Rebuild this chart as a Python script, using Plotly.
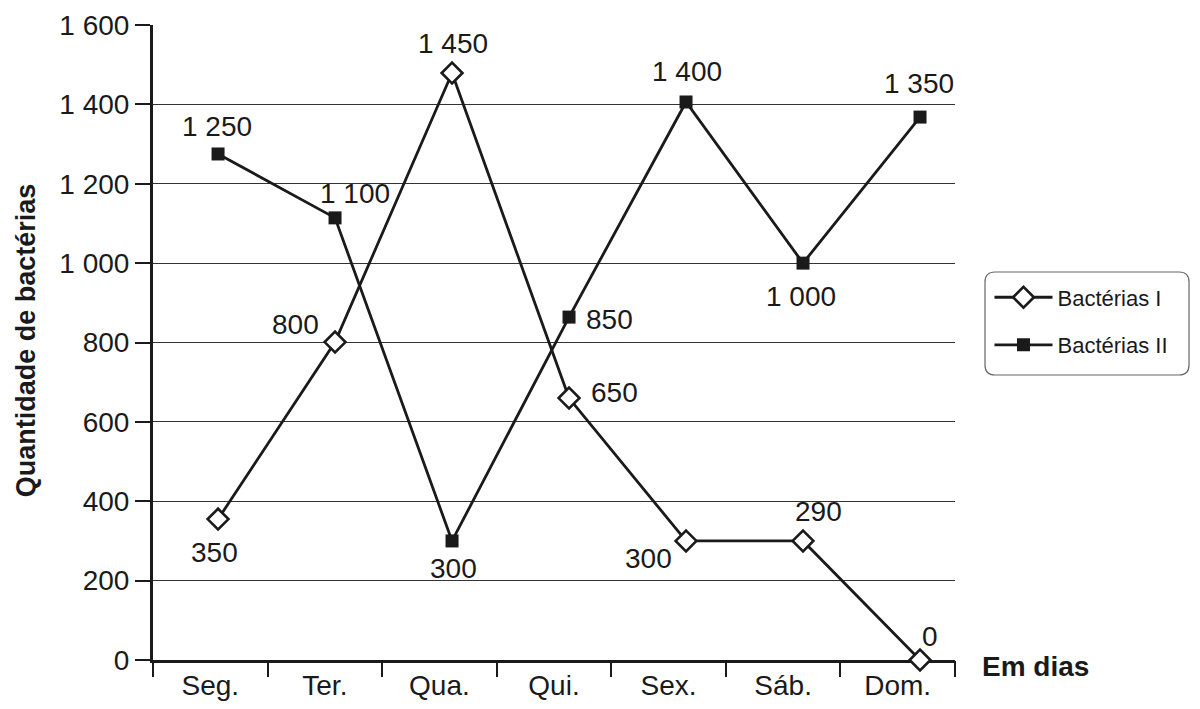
import plotly.graph_objects as go

# ===========================
# DATA
# ===========================
dias = ["Seg.", "Ter.", "Qua.", "Qui.", "Sex.", "Sáb.", "Dom."]

bact_1 = [355, 801, 1479, 660, 300, 300, 0]
bact_1_txt = ["350", "800", "1 450", "650", "300", "290", "0"]

bact_2 = [1275, 1114, 300, 864, 1406, 1000, 1368]
bact_2_txt = ["1 250", "1 100", "300", "850", "1 400", "1 000", "1 350"]

y_ticks = [0, 200, 400, 600, 800, 1000, 1200, 1400, 1600]
y_tick_txt = ["0", "200", "400", "600", "800", "1 000", "1 200", "1 400", "1 600"]

# label offsets in px (dx, dy downwards) from each marker
off_1 = [(-4, 34), (-40, -17), (1, -29), (45, -5), (-38, 19), (15, -28), (10, -23)]
off_2 = [(-1, -26), (20, -23), (1, 29), (40, 3), (1, -29), (-2, 34), (-1, -33)]

FONT = "Liberation Sans, Arial, sans-serif"
INK = "#1a1a1a"
LBL = 28

fig = go.Figure()

fig.add_trace(go.Scatter(
    x=dias, y=bact_1, name="Bactérias I",
    mode="lines+markers",
    line=dict(color=INK, width=2.8),
    marker=dict(symbol="diamond", size=16, color="white",
                line=dict(color=INK, width=2.6)),
    cliponaxis=False, legendgroup="a",
))

fig.add_trace(go.Scatter(
    x=dias, y=bact_2, name="Bactérias II",
    mode="lines+markers",
    line=dict(color=INK, width=2.8),
    marker=dict(symbol="square", size=13, color=INK, line=dict(width=0)),
    cliponaxis=False, legendgroup="b",
))

# invisible trace only to carry the category labels on the lower axis
fig.add_trace(go.Scatter(
    x=dias, y=[None] * len(dias), xaxis="x2",
    showlegend=False, hoverinfo="skip",
))

for vals, txts, offs in [(bact_1, bact_1_txt, off_1), (bact_2, bact_2_txt, off_2)]:
    for d, v, t, (dx, dy) in zip(dias, vals, txts, offs):
        fig.add_annotation(
            x=d, y=v, text=t, showarrow=False,
            xanchor="center", yanchor="middle",
            xshift=dx, yshift=-dy + 1,
            font=dict(size=LBL, color=INK, family=FONT),
        )

# rounded legend frame
x0, x1, y0, y1 = 1.0374, 1.2918, 0.4488, 0.611
rx, ry = 10 / 802, 10 / 635
fig.add_shape(
    type="path", xref="paper", yref="paper",
    path=(f"M {x0+rx},{y1} L {x1-rx},{y1} Q {x1},{y1} {x1},{y1-ry} "
          f"L {x1},{y0+ry} Q {x1},{y0} {x1-rx},{y0} L {x0+rx},{y0} "
          f"Q {x0},{y0} {x0},{y0+ry} L {x0},{y1-ry} Q {x0},{y1} {x0+rx},{y1} Z"),
    line=dict(color="#666", width=1.2),
)

fig.add_annotation(
    text="<b>Em dias</b>", xref="paper", yref="paper",
    x=1.031, y=-0.011, xanchor="left", yanchor="middle",
    showarrow=False, font=dict(size=28, color=INK, family=FONT),
)

fig.add_annotation(
    text="<b>Quantidade de bactérias</b>", xref="paper", yref="paper",
    x=-0.158, y=0.504, xanchor="center", yanchor="middle", textangle=-90,
    showarrow=False, font=dict(size=27, color=INK, family=FONT),
)

fig.update_layout(
    width=1192, height=701,
    margin=dict(l=145, r=245, t=17, b=49),
    paper_bgcolor="white", plot_bgcolor="white",
    font=dict(family=FONT, color=INK),
    legend=dict(
        x=1.043, y=0.604, xanchor="left", yanchor="top",
        font=dict(size=22, color=INK, family=FONT),
        itemwidth=58, tracegroupgap=16, bgcolor="rgba(0,0,0,0)",
    ),
    xaxis=dict(
        type="category", range=[-0.556, 6.299],
        showgrid=False, showline=True, linecolor=INK, linewidth=3,
        showticklabels=False, ticks="", layer="below traces",
        automargin=False,
    ),
    xaxis2=dict(
        type="category", categoryarray=dias, range=[-0.5, 6.5],
        overlaying="x", anchor="y", side="bottom",
        showgrid=False, showline=False,
        ticks="outside", tickson="boundaries", ticklen=16, tickwidth=1.5,
        tickcolor=INK, tickfont=dict(size=28, color=INK),
        ticklabelstandoff=6,
        layer="below traces", automargin=False,
    ),
    yaxis=dict(
        range=[0, 1600], tickvals=y_ticks, ticktext=y_tick_txt,
        showgrid=True, gridcolor="#333", gridwidth=1.2,
        showline=True, linecolor=INK, linewidth=3,
        ticks="outside", ticklen=15, tickwidth=1.5, tickcolor=INK,
        ticklabelstandoff=0,
        tickfont=dict(size=28, color=INK),
        zeroline=False, layer="below traces", automargin=False,
    ),
)

fig.write_html("out.html")
